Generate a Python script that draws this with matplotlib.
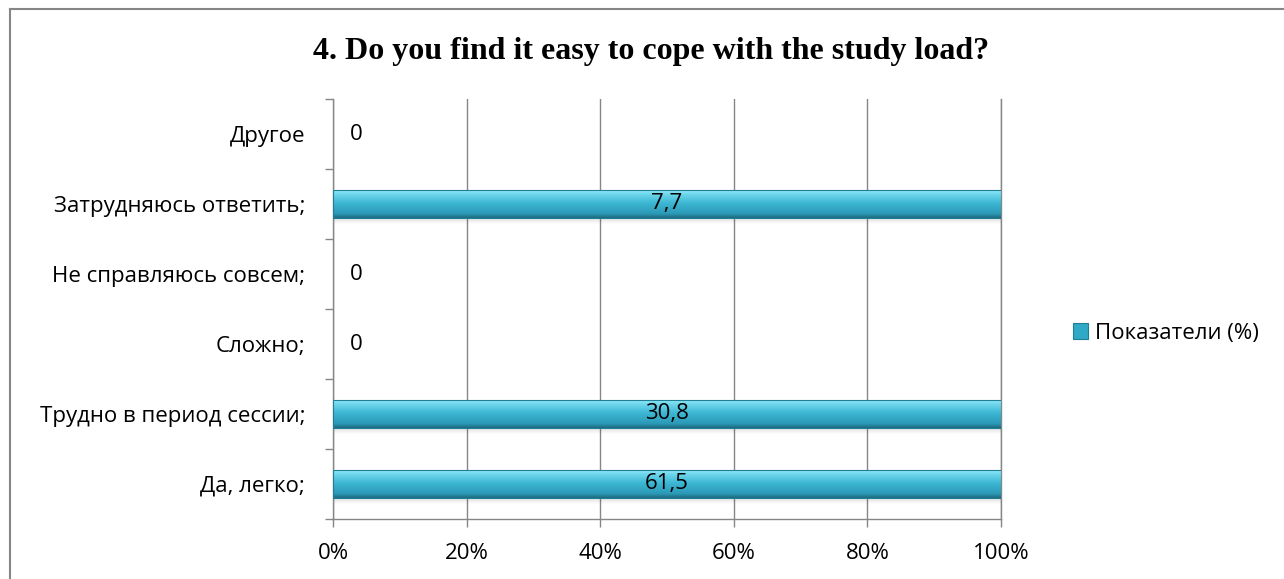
import matplotlib
matplotlib.use("Agg")
import matplotlib.pyplot as plt
import numpy as np
from matplotlib.patches import Patch
from matplotlib.lines import Line2D

categories = ["Да, легко;", "Трудно в период сессии;", "Сложно;",
              "Не справляюсь совсем;", "Затрудняюсь ответить;", "Другое"]
values = [61.5, 30.8, 0, 0, 7.7, 0]
value_labels = ["61,5", "30,8", "0", "0", "7,7", "0"]
x_ticks = [0, 0.2, 0.4, 0.6, 0.8, 1.0]
x_tick_labels = ["0%", "20%", "40%", "60%", "80%", "100%"]
series_name = "Показатели (%)"
title = "4. Do you find it easy to cope with the study load?"

# 100% stacked with one series: each nonzero bar fills its category
shares = [v / v if v else 0.0 for v in values]

FONT = "Open Sans"
FS = 16
GRAY = "#868686"

fig = plt.figure(figsize=(12.84, 5.79), dpi=100)
fig.patch.set_facecolor("white")

# outer chart frame (left and top visible)
fig.add_artist(Line2D([10/1284, 10/1284], [0, 1 - 9/579], color=GRAY, lw=1.5,
                      transform=fig.transFigure))
fig.add_artist(Line2D([10/1284, 1], [1 - 9/579, 1 - 9/579], color=GRAY, lw=1.5,
                      transform=fig.transFigure))

ax = fig.add_axes([333/1284, 60/579, 668/1284, 420/579])
n = len(categories)
ax.set_xlim(0, 1)
ax.set_ylim(-0.5, n - 0.5)

ax.set_xticks(x_ticks)
ax.set_xticklabels(x_tick_labels, fontsize=FS, family=FONT)
ax.tick_params(axis="x", length=6, width=1.0, color=GRAY, pad=11)
ax.xaxis.grid(True, color=GRAY, lw=1.0)
ax.set_axisbelow(True)
ax.axvline(1.0, color=GRAY, lw=1.0, clip_on=False, zorder=1)

ax.set_yticks(np.arange(-0.5, n, 1.0))
ax.set_yticklabels([])
ax.set_yticks(np.arange(n), minor=True)
ax.set_yticklabels(categories, minor=True, fontsize=FS, family=FONT)
ax.tick_params(axis="y", which="major", length=6, width=1.0, color=GRAY)
ax.tick_params(axis="y", which="minor", length=0, pad=20)

for s in ["top", "right"]:
    ax.spines[s].set_visible(False)
for s in ["left", "bottom"]:
    ax.spines[s].set_color(GRAY)
    ax.spines[s].set_linewidth(1.0)

# gradient for bars (top -> bottom)
grad_pos = np.array([0.0, 0.12, 0.45, 0.85, 1.0])
grad_cols = np.array([
    [0.58, 0.92, 0.97],
    [0.45, 0.85, 0.93],
    [0.24, 0.72, 0.83],
    [0.17, 0.60, 0.72],
    [0.11, 0.42, 0.50],
])
t = np.linspace(0, 1, 64)
grad = np.stack([np.interp(t, grad_pos, grad_cols[:, c]) for c in range(3)], axis=1)
grad_img = grad[:, None, :]

bh = 0.4
bars = ax.barh(np.arange(n), shares, height=bh, color="#2FA9C5", zorder=3)
for i, b in enumerate(bars):
    w = b.get_width()
    if w <= 0:
        continue
    y0 = b.get_y()
    # soft shadow below
    for k, a in enumerate([0.12, 0.08, 0.05, 0.03, 0.015]):
        ax.add_patch(plt.Rectangle((0, y0 - 0.018 * (k + 1)), w, 0.018,
                                   color="black", alpha=a, lw=0, zorder=2))
    im = ax.imshow(grad_img, extent=[0, w, y0, y0 + bh], origin="upper",
                   aspect="auto", zorder=4)
    im.set_clip_path(b)
    ax.add_patch(plt.Rectangle((0, y0), w, bh, fill=False,
                               edgecolor="#1E7F94", lw=0.8, zorder=5))

for i, (v, lab) in enumerate(zip(shares, value_labels)):
    if v > 0:
        ax.text(v / 2, i, lab, ha="center", va="center", fontsize=FS,
                family=FONT, zorder=6)
    else:
        ax.annotate(lab, (0, i), xytext=(17, 0), textcoords="offset points",
                    ha="center", va="center", fontsize=FS, family=FONT)

fig.text(651/1284, 1 - 52/579, title, ha="center", va="center",
         fontsize=23, fontweight="bold", family="Liberation Serif")

handle = Patch(facecolor="#2FA9C5", edgecolor="#1E7F94", lw=0.8)
fig.legend([handle], [series_name], loc="center left",
           bbox_to_anchor=(1064/1284, 1 - 333/579), frameon=False,
           prop={"family": FONT, "size": FS}, handlelength=0.7,
           handleheight=0.7, handletextpad=0.3, borderaxespad=0)

fig.savefig("out.png", dpi=100)
